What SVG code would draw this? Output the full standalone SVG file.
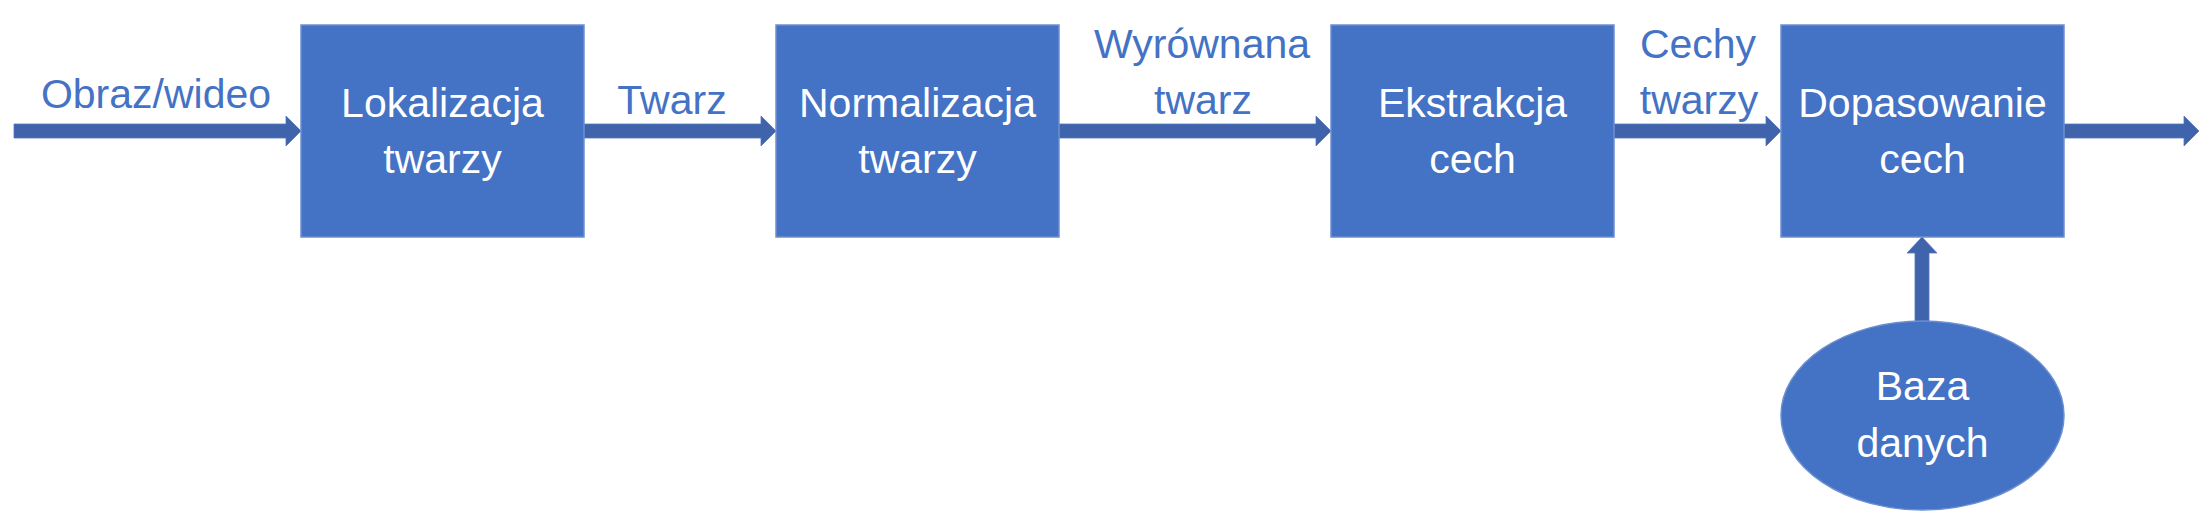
<svg xmlns="http://www.w3.org/2000/svg" width="2205" height="511" viewBox="0 0 2205 511">
<style>
.box{fill:#4472C4;stroke:#6d8fd0;stroke-width:1.5}
.arr{fill:#3F64AB;stroke:#5577bb;stroke-width:0.8}
.nt{font-family:"Liberation Sans",Arial,sans-serif;font-size:41px;fill:#ffffff;text-anchor:middle}
.lb{font-family:"Liberation Sans",Arial,sans-serif;font-size:41px;fill:#4472C4;text-anchor:middle}
</style>
<rect width="2205" height="511" fill="#ffffff"/>
<g id="connectors">
<polygon class="arr" points="14,124 286,124 286,116 301,131 286,146 286,138 14,138"/>
<polygon class="arr" points="584,124 761,124 761,116 776,131 761,146 761,138 584,138"/>
<polygon class="arr" points="1059,124 1316,124 1316,116 1331,131 1316,146 1316,138 1059,138"/>
<polygon class="arr" points="1614,124 1766,124 1766,116 1781,131 1766,146 1766,138 1614,138"/>
<polygon class="arr" points="2064,124 2184,124 2184,116 2199,131 2184,146 2184,138 2064,138"/>
<polygon class="arr" points="1915,322 1915,253 1907,253 1922,237 1937,253 1929,253 1929,322"/>
<text class="lb" x="156" y="108">Obraz/wideo</text>
<text class="lb" x="672" y="114">Twarz</text>
<text class="lb" x="1202" y="58">Wyrównana</text>
<text class="lb" x="1203" y="114">twarz</text>
<text class="lb" x="1698" y="58">Cechy</text>
<text class="lb" x="1699" y="114">twarzy</text>
</g>
<g id="lokalizacja">
<rect class="box" x="301" y="25" width="283" height="212"/>
<text class="nt" x="442.5" y="117">Lokalizacja</text>
<text class="nt" x="442.5" y="173">twarzy</text>
</g>
<g id="normalizacja">
<rect class="box" x="776" y="25" width="283" height="212"/>
<text class="nt" x="917.5" y="117">Normalizacja</text>
<text class="nt" x="917.5" y="173">twarzy</text>
</g>
<g id="ekstrakcja">
<rect class="box" x="1331" y="25" width="283" height="212"/>
<text class="nt" x="1472.5" y="117">Ekstrakcja</text>
<text class="nt" x="1472.5" y="173">cech</text>
</g>
<g id="dopasowanie">
<rect class="box" x="1781" y="25" width="283" height="212"/>
<text class="nt" x="1922.5" y="117">Dopasowanie</text>
<text class="nt" x="1922.5" y="173">cech</text>
</g>
<g id="baza">
<ellipse class="box" cx="1922.5" cy="415.5" rx="141.5" ry="94.5"/>
<text class="nt" x="1922.5" y="400">Baza</text>
<text class="nt" x="1922.5" y="457">danych</text>
</g>
</svg>
